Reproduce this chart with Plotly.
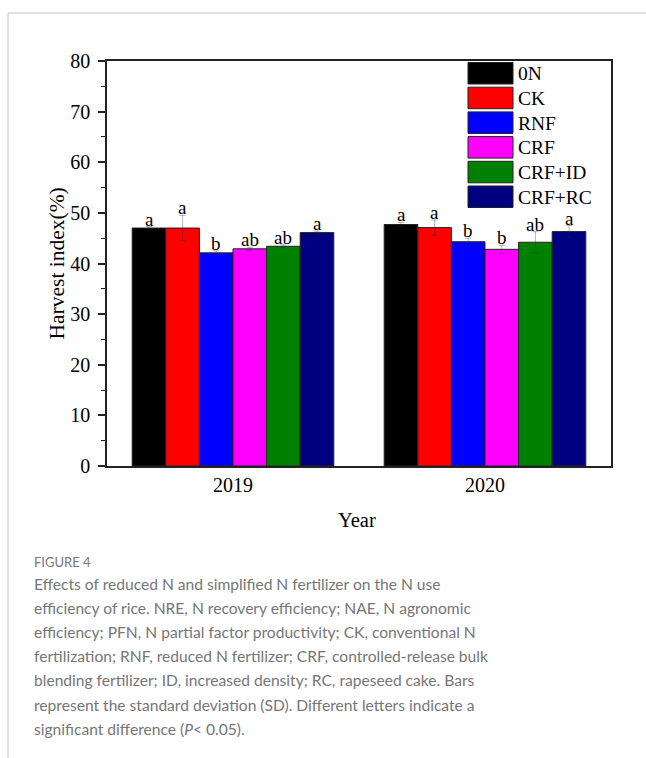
import plotly.graph_objects as go

# Harvest index of rice under six N treatments in two seasons
years = ["2019", "2020"]
treatments = ["0N", "CK", "RNF", "CRF", "CRF+ID", "CRF+RC"]
colors = ["#000000", "#FF0000", "#0000FF", "#FF00FF", "#008000", "#000080"]

hi_2019 = [47.0, 47.0, 42.1, 42.9, 43.4, 46.1]
hi_2020 = [47.7, 47.1, 44.3, 42.8, 44.2, 46.3]
sd_2019 = [0.3, 2.5, 0.4, 0.3, 0.3, 0.3]
sd_2020 = [0.4, 1.5, 0.7, 0.8, 2.1, 1.2]
letters_2019 = ["a", "a", "b", "ab", "ab", "a"]
letters_2020 = ["a", "a", "b", "b", "ab", "a"]

caption_title = "FIGURE 4"
caption_lines = [
    "Effects of reduced N and simplified N fertilizer on the N use",
    "efficiency of rice. NRE, N recovery efficiency; NAE, N agronomic",
    "efficiency; PFN, N partial factor productivity; CK, conventional N",
    "fertilization; RNF, reduced N fertilizer; CRF, controlled-release bulk",
    "blending fertilizer; ID, increased density; RC, rapeseed cake. Bars",
    "represent the standard deviation (SD). Different letters indicate a",
    "significant difference (<i>P</i>< 0.05).",
]

SERIF = "Liberation Serif"
CAP_FONT = "Lato"
CAP_COLOR = "#767676"

W_PX, H_PX = 646, 758
L, R, T, B = 107, 611, 61, 466          # plot-area edges in page pixels


def xp(x):
    return (x - L) / (R - L)


def yp(y):
    return (B - y) / (B - T)


fig = go.Figure()
values = [hi_2019, hi_2020]
sds = [sd_2019, sd_2020]
letters = [letters_2019, letters_2020]

for i, name in enumerate(treatments):
    fig.add_trace(go.Bar(
        name=name,
        x=years,
        y=[values[j][i] for j in range(len(years))],
        marker=dict(color=colors[i], line=dict(color="#222222", width=1)),
        error_y=dict(type="data", array=[sds[j][i] for j in range(len(years))],
                     color="rgba(40,40,40,0.35)", thickness=1, width=3, visible=True),
        showlegend=False,
    ))

# significance letters above each bar (grouped bars: group width 0.8)
n = len(treatments)
group_w = 0.8
annotations = []
for j, yr in enumerate(years):
    for i in range(n):
        xc = j - group_w / 2 + group_w / n * (i + 0.5)
        annotations.append(dict(
            x=xc, y=values[j][i] + sds[j][i], xref="x", yref="y",
            text=letters[j][i], showarrow=False, yanchor="middle",
            yshift=8, borderpad=0, height=16,
            font=dict(family=SERIF, size=19, color="#000"),
        ))

# legend block: large swatches with labels
shapes = []
row_top, row_step, sw_h = 62.5, 24.7, 21.5
for i, name in enumerate(treatments):
    y0 = row_top + i * row_step
    shapes.append(dict(type="rect", xref="paper", yref="paper",
                       x0=xp(468), x1=xp(513), y0=yp(y0), y1=yp(y0 + sw_h),
                       fillcolor=colors[i], line=dict(color="#222222", width=1)))
    annotations.append(dict(x=xp(517), y=yp(y0 + sw_h / 2), xref="paper", yref="paper",
                            text=name, showarrow=False, xanchor="left", yanchor="middle",
                            borderpad=0, height=18,
                            font=dict(family=SERIF, size=19.5, color="#000")))

# axis titles
annotations.append(dict(x=xp(56), y=yp((T + B) / 2), xref="paper", yref="paper",
                        text="Harvest index(%)", textangle=-90, showarrow=False,
                        xanchor="center", yanchor="middle",
                        font=dict(family=SERIF, size=21.5, color="#000")))
annotations.append(dict(x=xp(357), y=yp(520), xref="paper", yref="paper",
                        text="Year", showarrow=False, xanchor="center", yanchor="middle",
                        font=dict(family=SERIF, size=20.5, color="#000")))

# caption
annotations.append(dict(x=xp(32), y=yp(562), xref="paper", yref="paper",
                        text=caption_title, showarrow=False, xanchor="left", yanchor="middle",
                        font=dict(family=CAP_FONT, size=13, color="#777777")))
for k, line in enumerate(caption_lines):
    annotations.append(dict(x=xp(32), y=yp(584 + k * 24.1), xref="paper", yref="paper",
                            text=line, showarrow=False, xanchor="left", yanchor="middle",
                            font=dict(family=CAP_FONT, size=15.6, color=CAP_COLOR)))

# card border (top and left rules)
shapes.append(dict(type="line", xref="paper", yref="paper",
                   x0=xp(8), x1=xp(W_PX + 5), y0=yp(13), y1=yp(13),
                   line=dict(color="#c4c4c4", width=1)))
shapes.append(dict(type="line", xref="paper", yref="paper",
                   x0=xp(8), x1=xp(8), y0=yp(13), y1=yp(H_PX + 5),
                   line=dict(color="#c4c4c4", width=1)))

fig.update_layout(
    width=W_PX, height=H_PX,
    margin=dict(l=L, r=W_PX - R, t=T, b=H_PX - B, pad=0),
    paper_bgcolor="white", plot_bgcolor="white",
    barmode="group", bargap=0.2, bargroupgap=0,
    annotations=annotations, shapes=shapes,
    xaxis=dict(range=[-0.5, 1.5], showline=True, linecolor="#222", linewidth=1.5,
               mirror=True, ticks="", showgrid=False, zeroline=False,
               tickfont=dict(family=SERIF, size=20, color="#000")),
    yaxis=dict(range=[0, 80], dtick=10, showline=True, linecolor="#222", linewidth=1.5,
               mirror=True, ticks="outside", ticklen=7, tickwidth=1.5, tickcolor="#222",
               ticklabelstandoff=4,
               minor=dict(dtick=5, ticks="outside", ticklen=4, tickwidth=1.2, tickcolor="#222"),
               showgrid=False, zeroline=False,
               tickfont=dict(family=SERIF, size=20, color="#000")),
    font=dict(family=SERIF),
)

fig.write_html("out.html")
